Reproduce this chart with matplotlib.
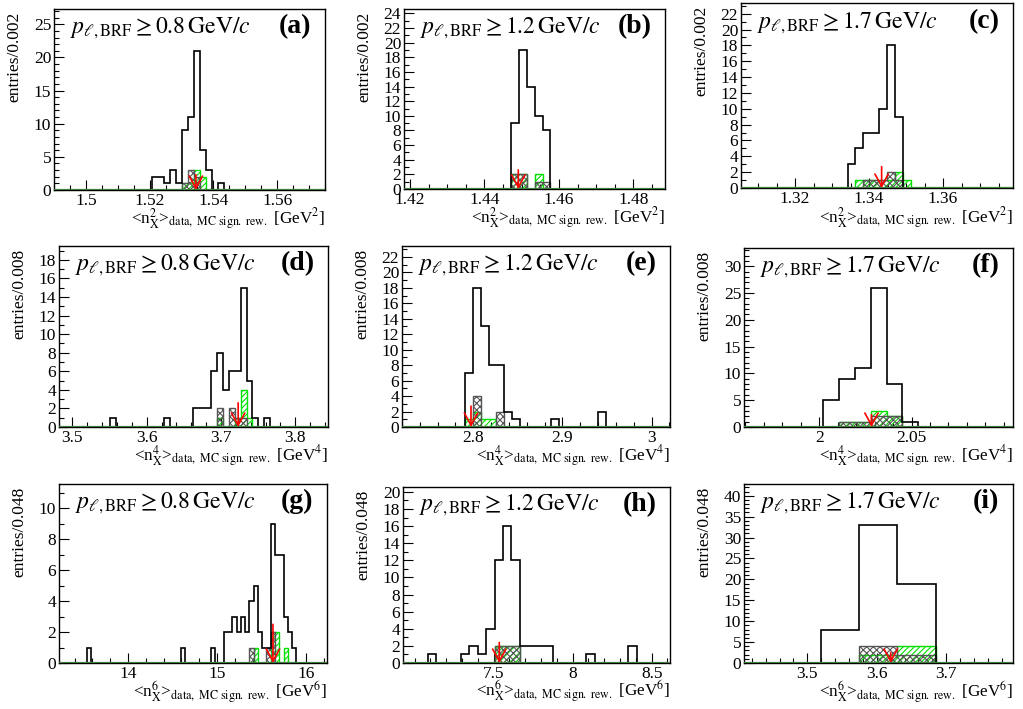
import numpy as np
import matplotlib
matplotlib.use('Agg')
import matplotlib.pyplot as plt
from matplotlib.ticker import MultipleLocator, AutoMinorLocator, FixedLocator

plt.rcParams['font.family'] = 'serif'
plt.rcParams['font.serif'] = ['Liberation Serif', 'DejaVu Serif']
plt.rcParams['mathtext.fontset'] = 'stix'
plt.rcParams['hatch.linewidth'] = 0.8

# ---- data: bin start, bin width, counts (data, gray MC, green MC), arrow position/height
a_x0, a_w = 1.5206, 0.0019
a_data = [2, 2, 1, 3, 1, 9, 11, 21, 6, 3, 0, 1]
a_gray = [0, 0, 0, 0, 0, 1, 3, 2, 0, 0, 0, 0]
a_green = [0, 0, 0, 0, 0, 1, 1, 3, 2, 0, 0, 0]
a_arrow = (1.5345, 2.3)

b_x0, b_w = 1.4472, 0.0021
b_data = [9, 19, 14, 10, 8]
b_gray = [2, 2, 0, 1, 1]
b_green = [2, 2, 0, 2, 0]
b_arrow = (1.4491, 2.6)

c_x0, c_w = 1.3342, 0.00213
c_data = [3, 5, 7, 7, 10, 18, 9, 0]
c_gray = [0, 0, 1, 1, 1, 2, 1, 0]
c_green = [0, 1, 1, 1, 1, 1, 2, 1]
c_arrow = (1.3434, 2.7)

d_x0, d_w = 3.5513, 0.00796
d_data = [1, 0, 0, 0, 0, 0, 0, 0, 0, 1, 0, 0, 0, 0, 2, 2, 2, 6, 8, 4, 6, 6, 15, 5, 1, 0, 1]
d_gray = [0, 0, 0, 0, 0, 0, 0, 0, 0, 0, 0, 0, 0, 0, 0, 0, 0, 0, 2, 0, 2, 1, 1, 0, 0, 0, 0]
d_green = [0, 0, 0, 0, 0, 0, 0, 0, 0, 0, 0, 0, 0, 0, 0, 0, 0, 0, 1, 0, 0, 1, 4, 1, 0, 0, 0]
d_arrow = (3.7231, 2.6)

e_x0, e_w = 2.7907, 0.00879
e_data = [7, 18, 13, 8, 8, 2, 1, 0, 0, 0, 0, 1, 0, 0, 0, 0, 0, 2]
e_gray = [0, 4, 0, 0, 2, 0, 0, 0, 0, 0, 0, 0, 0, 0, 0, 0, 0, 0]
e_green = [1, 2, 1, 1, 0, 0, 0, 0, 0, 0, 0, 0, 0, 0, 0, 0, 0, 0]
e_arrow = (2.7974, 2.7)

f_x0, f_w = 2.00217, 0.008574
f_data = [5, 9, 11, 26, 8, 1]
f_gray = [0, 1, 1, 2, 2, 0]
f_green = [0, 1, 1, 3, 2, 0]
f_arrow = (2.0283, 2.3)

g_x0, g_w = 13.537, 0.048
g_data = [1] + [0] * 21 + [1] + [0] * 6 + [1, 0, 0] + [2, 2, 3, 2, 3, 2, 4, 5, 2, 1, 1, 9, 7, 7, 3, 2, 1]
g_gray = [0] * 38 + [1, 0, 0, 0, 1, 2, 0, 0, 0, 0, 0]
g_green = [0] * 38 + [0, 1, 0, 0, 0, 2, 2, 0, 1, 0, 0]
g_arrow = (15.626, 2.5)

h_x0, h_w = 7.0832, 0.05284
h_data = [1, 0, 0, 0, 1, 2, 1, 4, 12, 16, 12, 2, 2, 2, 2, 0, 0, 0, 0, 1, 0, 0, 0, 0, 2]
h_gray = [0] * 8 + [2, 2, 2] + [0] * 14
h_green = [0] * 8 + [2, 2, 2] + [0] * 14
h_arrow = (7.536, 2.4)

i_x0, i_w = 3.5192, 0.0552
i_data = [8, 33, 19]
i_gray = [0, 4, 2]
i_green = [0, 2, 4]
i_arrow = (3.620, 2.5)

cuts = ['0.8', '1.2', '1.7'] * 3
moments = [2, 2, 2, 4, 4, 4, 6, 6, 6]
binlabels = ['0.002'] * 3 + ['0.008'] * 3 + ['0.048'] * 3
tags = ['a', 'b', 'c', 'd', 'e', 'f', 'g', 'h', 'i']

hists = [
    (a_x0, a_w, a_data, a_gray, a_green, a_arrow),
    (b_x0, b_w, b_data, b_gray, b_green, b_arrow),
    (c_x0, c_w, c_data, c_gray, c_green, c_arrow),
    (d_x0, d_w, d_data, d_gray, d_green, d_arrow),
    (e_x0, e_w, e_data, e_gray, e_green, e_arrow),
    (f_x0, f_w, f_data, f_gray, f_green, f_arrow),
    (g_x0, g_w, g_data, g_gray, g_green, g_arrow),
    (h_x0, h_w, h_data, h_gray, h_green, h_arrow),
    (i_x0, i_w, i_data, i_gray, i_green, i_arrow),
]

# ---- layout: axes box in pixels (left, top, right, bottom), limits, ticks
W, H = 1023, 709
boxes = [(54, 9, 325, 190), (404, 9, 665, 189), (741, 3, 1013, 188),
         (59, 246, 328, 427), (402, 246, 670, 427), (744, 248, 1013, 427),
         (59, 484, 327, 663), (403, 487, 670, 663), (744, 484, 1013, 663)]
xlims = [(1.49, 1.575), (1.4184, 1.4885), (1.3054, 1.3789),
         (3.482, 3.844), (2.72, 3.0206), (1.9592, 2.105),
         (13.226, 16.232), (6.927, 8.616), (3.4089, 3.796)]
ylims = [27.3, 24.6, 23.35, 19.5, 23.4, 33.4, 11.57, 20.57, 42.8]
xticks = [[1.5, 1.52, 1.54, 1.56], [1.42, 1.44, 1.46, 1.48], [1.32, 1.34, 1.36],
          [3.5, 3.6, 3.7, 3.8], [2.8, 2.9, 3.0], [2.0, 2.05],
          [14, 15, 16], [7.5, 8, 8.5], [3.5, 3.6, 3.7]]
xticklabels = [['1.5', '1.52', '1.54', '1.56'], ['1.42', '1.44', '1.46', '1.48'], ['1.32', '1.34', '1.36'],
               ['3.5', '3.6', '3.7', '3.8'], ['2.8', '2.9', '3'], ['2', '2.05'],
               ['14', '15', '16'], ['7.5', '8', '8.5'], ['3.5', '3.6', '3.7']]
xminor = [4, 4, 4, 5, 5, 5, 5, 5, 5]
ysteps = [5, 2, 2, 2, 2, 5, 2, 2, 5]

fig = plt.figure(figsize=(W / 100, H / 100), dpi=100)

for k in range(9):
    l, t, r, b = boxes[k]
    ax = fig.add_axes([l / W, 1 - b / H, (r - l) / W, (b - t) / H])
    x0, w, data, gray, green, arrow = hists[k]
    edges = x0 + w * np.arange(len(data) + 1)

    ax.stairs(green, edges, fill=True, facecolor='none', edgecolor='#00e000',
              hatch='//////', lw=1.0, zorder=2)
    ax.stairs(gray, edges, fill=True, facecolor='none', edgecolor='#555555',
              hatch='xxxxx', lw=1.0, zorder=2.1)
    ax.stairs(data, edges, color='black', lw=1.2, zorder=3)
    ax.annotate('', xy=(arrow[0], 0), xytext=(arrow[0], arrow[1]),
                arrowprops=dict(arrowstyle='->, head_length=0.55, head_width=0.3',
                                color='red', lw=1.2, mutation_scale=16,
                                shrinkA=0, shrinkB=0), zorder=4)
    ax.axhline(0, color='#3f7f3a', lw=1.6, zorder=3.5)

    ax.set_xlim(*xlims[k])
    ax.set_ylim(0, ylims[k])
    ax.xaxis.set_major_locator(FixedLocator(xticks[k]))
    ax.set_xticklabels(xticklabels[k])
    ax.xaxis.set_minor_locator(AutoMinorLocator(xminor[k]))
    ax.yaxis.set_major_locator(MultipleLocator(ysteps[k]))
    ax.yaxis.set_minor_locator(AutoMinorLocator(5 if ysteps[k] == 5 else 2))
    ax.tick_params(which='both', direction='in', top=False, right=False,
                   labelsize=12.5, pad=2)
    ax.tick_params(which='major', length=7, width=0.8)
    ax.tick_params(which='minor', length=3.5, width=0.8)
    for s in ax.spines.values():
        s.set_linewidth(1.0)

    ax.text(0.06, 0.865, r'$p_{\ell,\mathrm{BRF}} \geq ' + cuts[k] + r'\,\mathrm{GeV}/c$',
            transform=ax.transAxes, fontsize=17, ha='left', va='baseline')
    ax.text(0.95, 0.865, '(' + tags[k] + ')', transform=ax.transAxes,
            fontsize=20, fontweight='bold', ha='right', va='baseline')

    n = moments[k]
    ax.text(1.0, -0.19,
            r'<n$_{\mathrm{X}}^{%d}$>$_{\mathrm{data,\ MC\ sign.\ rew.}}$ [GeV$^{%d}$]' % (n, n),
            transform=ax.transAxes, fontsize=12.3, ha='right', va='baseline')
    ax.text(-40 / (r - l), 0.985, 'entries/' + binlabels[k], transform=ax.transAxes,
            fontsize=12.5, rotation=90, ha='center', va='top')

fig.savefig('out.png', dpi=100)
